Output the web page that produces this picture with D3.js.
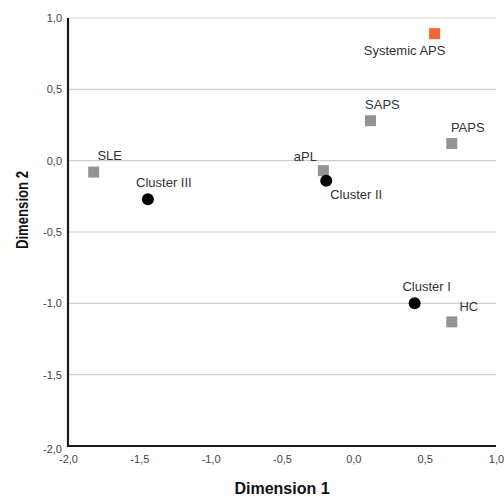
<!DOCTYPE html>
<html>
<head>
<meta charset="utf-8">
<script src="https://cdn.jsdelivr.net/npm/d3@7"></script>
<style>
  body { margin: 0; background: #fff; }
  svg { display: block; font-family: "Liberation Sans", Arial, sans-serif; }
</style>
</head>
<body>
<svg id="chart" width="504" height="497"></svg>
<script>
// MDS coordinates of groups and clusters
const names   = ["Systemic APS", "SAPS", "PAPS", "SLE", "aPL", "HC", "Cluster I", "Cluster II", "Cluster III"];
const dim1    = [0.57, 0.12, 0.69, -1.82, -0.21, 0.69, 0.43, -0.19, -1.44];
const dim2    = [0.89, 0.28, 0.12, -0.08, -0.07, -1.13, -1.00, -0.14, -0.27];
const kinds   = ["highlight", "group", "group", "group", "group", "group", "cluster", "cluster", "cluster"];
// label placement relative to each marker (px)
const labelDx = [-30, 12, 16, 16, -18, 17, 12, 30, 16];
const labelDy = [17, -16, -16, -17, -14, -15, -17, 14, -17];

const xTicks = [-2.0, -1.5, -1.0, -0.5, 0.0, 0.5, 1.0];
const yTicks = [-2.0, -1.5, -1.0, -0.5, 0.0, 0.5, 1.0];

const svg = d3.select("#chart");
const plotL = 68, plotR = 496, plotT = 18, plotB = 446;

const x = d3.scaleLinear().domain([-2, 1]).range([plotL, plotR]);
const y = d3.scaleLinear().domain([-2, 1]).range([plotB, plotT]);
const fmt = v => d3.format(".1f")(v).replace(".", ",").replace("−", "-");

// horizontal gridlines
svg.append("g")
  .selectAll("line")
  .data(yTicks.filter(v => v > -2))
  .join("line")
  .attr("x1", plotL).attr("x2", plotR)
  .attr("y1", d => y(d)).attr("y2", d => y(d))
  .attr("stroke", "#cfcfcf").attr("stroke-width", 1.2);

// axes
const gx = svg.append("g").attr("transform", `translate(0,${plotB})`)
  .call(d3.axisBottom(x).tickValues(xTicks).tickFormat(fmt).tickSize(0).tickPadding(9));
gx.select(".domain").remove();
gx.selectAll("text").attr("font-size", 11).attr("fill", "#444").attr("font-family", null);

const gy = svg.append("g").attr("transform", `translate(${plotL},0)`)
  .call(d3.axisLeft(y).tickValues(yTicks).tickFormat(fmt).tickSize(0).tickPadding(6));
gy.select(".domain").remove();
gy.selectAll("text").attr("font-size", 11).attr("fill", "#444").attr("font-family", null)
  .attr("dy", d => d === -2 ? "0.55em" : "0.32em");

svg.append("line").attr("x1", plotL).attr("x2", plotL).attr("y1", plotT).attr("y2", plotB + 1)
  .attr("stroke", "#1a1a1a").attr("stroke-width", 2.2);
svg.append("line").attr("x1", plotL - 1).attr("x2", plotR).attr("y1", plotB).attr("y2", plotB)
  .attr("stroke", "#1a1a1a").attr("stroke-width", 2.2);

// axis titles
svg.append("text").attr("x", 282).attr("y", 494)
  .attr("text-anchor", "middle").attr("font-weight", "bold").attr("font-size", 16)
  .attr("fill", "#111").text("Dimension 1");
svg.append("text").attr("transform", "translate(28,210) rotate(-90)")
  .attr("text-anchor", "middle").attr("font-weight", "bold").attr("font-size", 16)
  .attr("textLength", 78).attr("lengthAdjust", "spacingAndGlyphs")
  .attr("fill", "#111").text("Dimension 2");

const pts = names.map((n, i) => ({ name: n, x: dim1[i], y: dim2[i], kind: kinds[i], dx: labelDx[i], dy: labelDy[i] }));

// markers
const sq = 11;
svg.append("g").selectAll("rect")
  .data(pts.filter(d => d.kind !== "cluster"))
  .join("rect")
  .attr("x", d => x(d.x) - sq / 2).attr("y", d => y(d.y) - sq / 2)
  .attr("width", sq).attr("height", sq)
  .attr("fill", d => d.kind === "highlight" ? "#f26430" : "#939393");

svg.append("g").selectAll("circle")
  .data(pts.filter(d => d.kind === "cluster"))
  .join("circle")
  .attr("cx", d => x(d.x)).attr("cy", d => y(d.y)).attr("r", 6)
  .attr("fill", "#000");

// point labels
svg.append("g").selectAll("text")
  .data(pts)
  .join("text")
  .attr("x", d => x(d.x) + d.dx).attr("y", d => y(d.y) + d.dy)
  .attr("dy", "0.35em").attr("text-anchor", "middle")
  .attr("font-size", 13).attr("fill", "#333")
  .text(d => d.name);
</script>
</body>
</html>
